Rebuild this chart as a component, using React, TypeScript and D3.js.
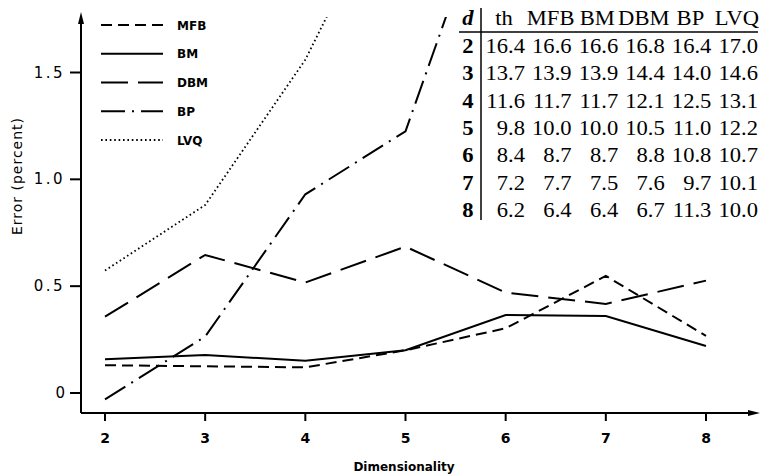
import * as d3 from "d3";

const dims = [2, 3, 4, 5, 6, 7, 8];
const seriesNames = ["MFB", "BM", "DBM", "BP", "LVQ"];
const mfb = [0.13, 0.125, 0.12, 0.2, 0.303, 0.548, 0.267];
const bm = [0.158, 0.178, 0.151, 0.2, 0.365, 0.36, 0.22];
const dbm = [0.357, 0.646, 0.517, 0.685, 0.47, 0.417, 0.526];
const bp = [-0.03, 0.264, 0.93, 1.225, 2.55];
const lvq = [0.573, 0.88, 1.56, 2.5];
const yTicks = [0, 0.5, 1.0, 1.5];
const yTickLabels = ["0", "0.5", "1.0", "1.5"];

const tableHead = ["th", "MFB", "BM", "DBM", "BP", "LVQ"];
const tableRows = [2, 3, 4, 5, 6, 7, 8];
const tableValues = [
  ["16.4", "16.6", "16.6", "16.8", "16.4", "17.0"],
  ["13.7", "13.9", "13.9", "14.4", "14.0", "14.6"],
  ["11.6", "11.7", "11.7", "12.1", "12.5", "13.1"],
  ["9.8", "10.0", "10.0", "10.5", "11.0", "12.2"],
  ["8.4", "8.7", "8.7", "8.8", "10.8", "10.7"],
  ["7.2", "7.7", "7.5", "7.6", "9.7", "10.1"],
  ["6.2", "6.4", "6.4", "6.7", "11.3", "10.0"],
];

const series = [mfb, bm, dbm, bp, lvq];
const dashes = ["11 6", "", "27 10", "24 7 2 7", "1.6 2.8"];

const W = 762;
const H = 476;
const x = d3.scaleLinear().domain([2, 8]).range([105, 706]);
const y = d3.scaleLinear().domain([0, 1.5]).range([393, 72.5]);
const axisX = 81;
const axisY = 413;

const legendY = d3.scalePoint<string>().domain(seriesNames).range([25, 140]);
const colRight = d3.scaleLinear().domain([0, 5]).range([525, 758]);
const rowY = d3.scaleLinear().domain([0, 6]).range([53, 217]);

const plotFont = "'DejaVu Sans', sans-serif";
const tableFont = "'Liberation Serif', serif";

export default function App() {
  const line = d3
    .line<number>()
    .x((_, i) => x(dims[i]))
    .y((d) => y(d));

  return (
    <svg
      width={W}
      height={H}
      viewBox={`0 0 ${W} ${H}`}
      style={{ position: "absolute", left: 0, top: 0, background: "#fff" }}
    >
      <defs>
        <clipPath id="plot">
          <rect x={axisX} y={17} width={W - axisX} height={axisY - 17} />
        </clipPath>
      </defs>

      {/* axes */}
      <g stroke="#000" strokeWidth={2} fill="none">
        <line x1={axisX} y1={axisY} x2={axisX} y2={20} />
        <line x1={axisX} y1={axisY} x2={752} y2={axisY} />
      </g>
      <polygon points={`${axisX},12 ${axisX - 3},24 ${axisX + 3},24`} fill="#000" />
      <polygon points={`760,${axisY} 748,${axisY - 3} 748,${axisY + 3}`} fill="#000" />

      {yTicks.map((t, i) => (
        <g key={t}>
          <line x1={70} x2={axisX} y1={y(t)} y2={y(t)} stroke="#000" strokeWidth={2} />
          <text
            x={65}
            y={y(t) + 5}
            textAnchor="end"
            fontFamily={plotFont}
            fontSize={15}
            letterSpacing={i === 0 ? 0 : 2.5}
          >
            {yTickLabels[i]}
          </text>
        </g>
      ))}
      {dims.map((d) => (
        <g key={d}>
          <line x1={x(d)} x2={x(d)} y1={axisY} y2={421} stroke="#000" strokeWidth={2} />
          <text x={x(d)} y={443} textAnchor="middle" fontFamily={plotFont} fontSize={14} fontWeight="bold">
            {d}
          </text>
        </g>
      ))}

      <text x={404} y={471} textAnchor="middle" fontFamily={plotFont} fontSize={12} fontWeight="bold">
        Dimensionality
      </text>
      <text
        transform={`translate(22,176) rotate(-90)`}
        textAnchor="middle"
        fontFamily={plotFont}
        fontSize={14}
        letterSpacing={1}
      >
        Error (percent)
      </text>

      {/* series */}
      <g clipPath="url(#plot)" fill="none" stroke="#000">
        {series.map((s, i) => (
          <path
            key={seriesNames[i]}
            d={line(s) ?? ""}
            strokeWidth={i === 4 ? 1.8 : 2}
            strokeDasharray={dashes[i] || undefined}
          />
        ))}
      </g>

      {/* legend */}
      {seriesNames.map((n, i) => (
        <g key={n}>
          <line
            x1={101}
            x2={163}
            y1={legendY(n)}
            y2={legendY(n)}
            stroke="#000"
            strokeWidth={i === 4 ? 1.8 : 2}
            strokeDasharray={dashes[i] || undefined}
          />
          <text x={177} y={(legendY(n) ?? 0) + 4.5} fontFamily={plotFont} fontSize={12} fontWeight="bold">
            {n}
          </text>
        </g>
      ))}

      {/* table */}
      <g fontFamily={tableFont} fontSize={20} fill="#000">
        <text
          transform={`translate(468,25) scale(1.13,1)`}
          textAnchor="middle"
          fontStyle="italic"
          fontWeight="bold"
        >
          d
        </text>
        {tableHead.map((h, j) => (
          <text key={h} transform={`translate(${colRight(j) - 21},25) scale(1.13,1)`} textAnchor="middle">
            {h}
          </text>
        ))}
        <line x1={459} x2={758} y1={32} y2={32} stroke="#000" strokeWidth={1.5} />
        <line x1={481} x2={481} y1={8} y2={220} stroke="#000" strokeWidth={1.5} />
        {tableRows.map((r, i) => (
          <g key={r}>
            <text transform={`translate(468,${rowY(i)}) scale(1.13,1)`} textAnchor="middle" fontWeight="bold">
              {r}
            </text>
            {tableValues[i].map((v, j) => (
              <text key={j} transform={`translate(${colRight(j)},${rowY(i)}) scale(1.13,1)`} textAnchor="end">
                {v}
              </text>
            ))}
          </g>
        ))}
      </g>
    </svg>
  );
}
